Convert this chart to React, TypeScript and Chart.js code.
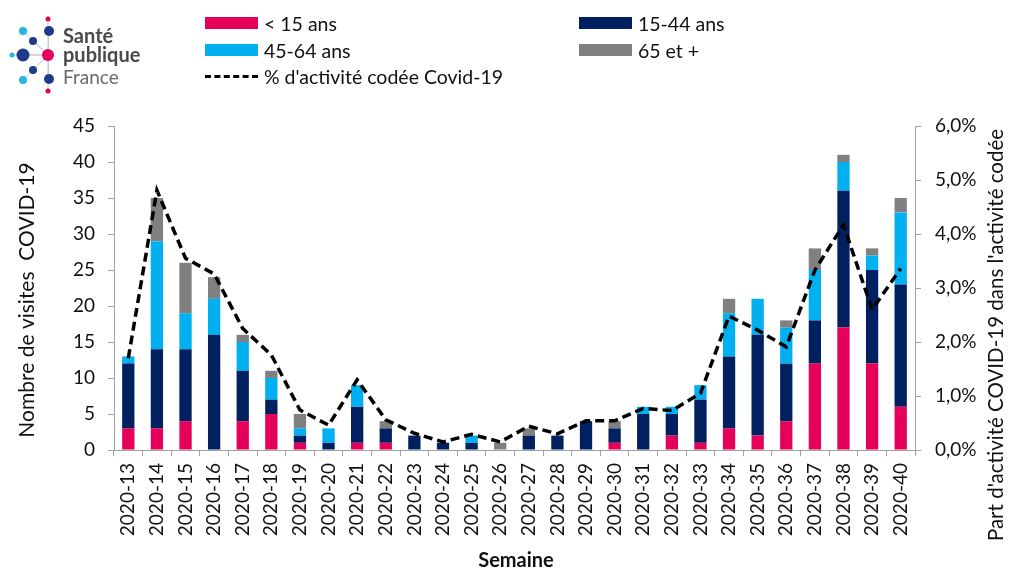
import React, { useEffect, useRef } from 'react';
import { Chart, registerables } from 'chart.js';

Chart.register(...registerables);

const weeks = [
  '2020-13', '2020-14', '2020-15', '2020-16', '2020-17', '2020-18', '2020-19',
  '2020-20', '2020-21', '2020-22', '2020-23', '2020-24', '2020-25', '2020-26',
  '2020-27', '2020-28', '2020-29', '2020-30', '2020-31', '2020-32', '2020-33',
  '2020-34', '2020-35', '2020-36', '2020-37', '2020-38', '2020-39', '2020-40',
];
const under15 = [3, 3, 4, 0, 4, 5, 1, 0, 1, 1, 0, 0, 0, 0, 0, 0, 0, 1, 0, 2, 1, 3, 2, 4, 12, 17, 12, 6];
const age15to44 = [9, 11, 10, 16, 7, 2, 1, 1, 5, 2, 2, 1, 1, 0, 2, 2, 4, 2, 5, 3, 6, 10, 14, 8, 6, 19, 13, 17];
const age45to64 = [1, 15, 5, 5, 4, 3, 1, 2, 3, 0, 0, 0, 1, 0, 0, 0, 0, 0, 1, 1, 2, 6, 5, 5, 7, 4, 2, 10];
const age65plus = [0, 6, 7, 3, 1, 1, 2, 0, 0, 1, 0, 0, 0, 1, 1, 0, 0, 1, 0, 0, 0, 2, 0, 1, 3, 1, 1, 2];
const covidShare = [
  1.70, 4.81, 3.55, 3.26, 2.25, 1.76, 0.74, 0.46, 1.30, 0.56, 0.31, 0.15, 0.29, 0.15,
  0.44, 0.30, 0.54, 0.54, 0.77, 0.73, 1.05, 2.48, 2.22, 1.91, 3.33, 4.17, 2.60, 3.36,
];

const seriesLabels = ['< 15 ans', '15-44 ans', '45-64 ans', '65 et +'];
const lineLabel = "% d'activité codée Covid-19";
const leftTitle = 'Nombre de visites  COVID-19';
const rightTitle = "Part d'activité COVID-19 dans l'activité codée";
const xTitle = 'Semaine';

const PINK = '#E5005A';
const NAVY = '#002060';
const LIGHTBLUE = '#00B0F0';
const GRAY = '#808080';
const AXIS = '#A0A0A0';
const FONT = 'Lato, "Open Sans", sans-serif';

const titlesPlugin = {
  id: 'axisTitles',
  afterDraw(chart: any) {
    const ctx = chart.ctx;
    ctx.save();
    ctx.fillStyle = '#111';
    ctx.textAlign = 'center';
    ctx.textBaseline = 'middle';
    ctx.font = `21px ${FONT}`;
    ctx.save();
    ctx.translate(27, 300);
    ctx.rotate(-Math.PI / 2);
    ctx.fillText(leftTitle, 0, 0);
    ctx.restore();
    ctx.font = `20.5px ${FONT}`;
    ctx.save();
    ctx.translate(996, 335);
    ctx.rotate(-Math.PI / 2);
    ctx.fillText(rightTitle, 0, 0);
    ctx.restore();
    ctx.font = `bold 20px ${FONT}`;
    ctx.fillText(xTitle, 516, 561);
    ctx.restore();
  },
};

function Logo() {
  const cx = 48;
  const cy = 55;
  const nodes = [
    { x: 48, y: 19, r: 2.5, c: PINK },
    { x: 49, y: 31, r: 5, c: '#1F3A8A' },
    { x: 23, y: 31, r: 4, c: '#29B4E8' },
    { x: 33, y: 41, r: 4, c: '#1F3A8A' },
    { x: 12, y: 55, r: 2.5, c: '#29B4E8' },
    { x: 23, y: 55, r: 6.5, c: '#1F3A8A' },
    { x: 33, y: 70, r: 4, c: '#1F3A8A' },
    { x: 23, y: 80, r: 4, c: '#29B4E8' },
    { x: 49, y: 79, r: 5, c: '#1F3A8A' },
    { x: 48, y: 91, r: 2.5, c: PINK },
  ];
  return (
    <svg width={160} height={100} style={{ position: 'absolute', left: 0, top: 0 }}>
      {nodes.map((n, i) => (
        <line key={'l' + i} x1={cx} y1={cy} x2={n.x} y2={n.y} stroke="#C8C8C8" strokeWidth={1} />
      ))}
      {nodes.map((n, i) => (
        <circle key={'c' + i} cx={n.x} cy={n.y} r={n.r} fill={n.c} />
      ))}
      <circle cx={cx} cy={cy} r={6} fill={PINK} />
      <text x={63} y={43} fontFamily={FONT} fontWeight="bold" fontSize={20} fill="#4A4A4A">Santé</text>
      <text x={63} y={62} fontFamily={FONT} fontWeight="bold" fontSize={20} fill="#4A4A4A">publique</text>
      <text x={63} y={84} fontFamily={FONT} fontSize={19} fill="#6A6A6A">France</text>
    </svg>
  );
}

function LegendItem({ left, top, color, label, dashed }: any) {
  return (
    <div style={{ position: 'absolute', left, top, height: 24, display: 'flex', alignItems: 'center', fontFamily: FONT, fontSize: 19.5, color: '#111', whiteSpace: 'nowrap' }}>
      {dashed ? (
        <div style={{ width: 53, height: 0, borderTop: '3px dashed #000', marginRight: 6 }} />
      ) : (
        <div style={{ width: 53, height: 12, background: color, marginRight: 6 }} />
      )}
      <span>{label}</span>
    </div>
  );
}

export default function App() {
  const canvasRef = useRef<HTMLCanvasElement | null>(null);

  useEffect(() => {
    const canvas = canvasRef.current;
    if (!canvas) return;
    const tickFont = { family: FONT, size: 19 };
    const chart = new Chart(canvas, {
      type: 'bar',
      data: {
        labels: weeks,
        datasets: [
          {
            type: 'line',
            label: lineLabel,
            data: covidShare,
            yAxisID: 'y1',
            borderColor: '#000',
            borderWidth: 3.5,
            borderDash: [9, 5],
            pointRadius: 0,
            fill: false,
            tension: 0,
            order: 0,
          } as any,
          { label: seriesLabels[0], data: under15, backgroundColor: PINK, yAxisID: 'y', stack: 's', order: 1 },
          { label: seriesLabels[1], data: age15to44, backgroundColor: NAVY, yAxisID: 'y', stack: 's', order: 1 },
          { label: seriesLabels[2], data: age45to64, backgroundColor: LIGHTBLUE, yAxisID: 'y', stack: 's', order: 1 },
          { label: seriesLabels[3], data: age65plus, backgroundColor: GRAY, yAxisID: 'y', stack: 's', order: 1 },
        ],
      },
      options: {
        animation: false,
        responsive: false,
        maintainAspectRatio: false,
        layout: { padding: { top: 126, left: 0, right: 0, bottom: 0 } },
        datasets: { bar: { categoryPercentage: 1, barPercentage: 0.43 } },
        plugins: { legend: { display: false }, tooltip: { enabled: false } },
        scales: {
          x: {
            stacked: true,
            grid: { display: true, drawOnChartArea: false, drawTicks: true, tickLength: 6, color: AXIS, offset: true },
            border: { display: true, color: AXIS, width: 1 },
            ticks: { minRotation: 90, maxRotation: 90, autoSkip: false, font: tickFont, color: '#111', padding: 7 },
            afterFit(scale: any) { scale.height = 121; },
          },
          y: {
            type: 'linear',
            position: 'left',
            stacked: true,
            min: 0,
            max: 45,
            grid: { display: true, drawOnChartArea: false, drawTicks: true, tickLength: 6, color: AXIS },
            border: { display: true, color: AXIS, width: 1 },
            ticks: { stepSize: 5, font: tickFont, color: '#111', padding: 13 },
            afterFit(scale: any) { scale.width = 114; },
          },
          y1: {
            type: 'linear',
            position: 'right',
            min: 0,
            max: 6,
            grid: { display: true, drawOnChartArea: false, drawTicks: true, tickLength: 6, color: AXIS },
            border: { display: true, color: AXIS, width: 1 },
            ticks: {
              stepSize: 1,
              font: tickFont,
              color: '#111',
              padding: 14,
              callback: (v: any) => Number(v).toFixed(1).replace('.', ',') + '%',
            },
            afterFit(scale: any) { scale.width = 95; },
          },
        },
      } as any,
      plugins: [titlesPlugin],
    });
    return () => chart.destroy();
  }, []);

  return (
    <div style={{ position: 'fixed', left: 0, top: 0, width: 1010, height: 571, background: '#fff' }}>
      <canvas ref={canvasRef} width={1010} height={571} style={{ position: 'absolute', left: 0, top: 0 }} />
      <Logo />
      <LegendItem left={205} top={11} color={PINK} label={seriesLabels[0]} />
      <LegendItem left={579} top={11} color={NAVY} label={seriesLabels[1]} />
      <LegendItem left={205} top={38} color={LIGHTBLUE} label={seriesLabels[2]} />
      <LegendItem left={579} top={38} color={GRAY} label={seriesLabels[3]} />
      <LegendItem left={205} top={64} dashed label={lineLabel} />
    </div>
  );
}
